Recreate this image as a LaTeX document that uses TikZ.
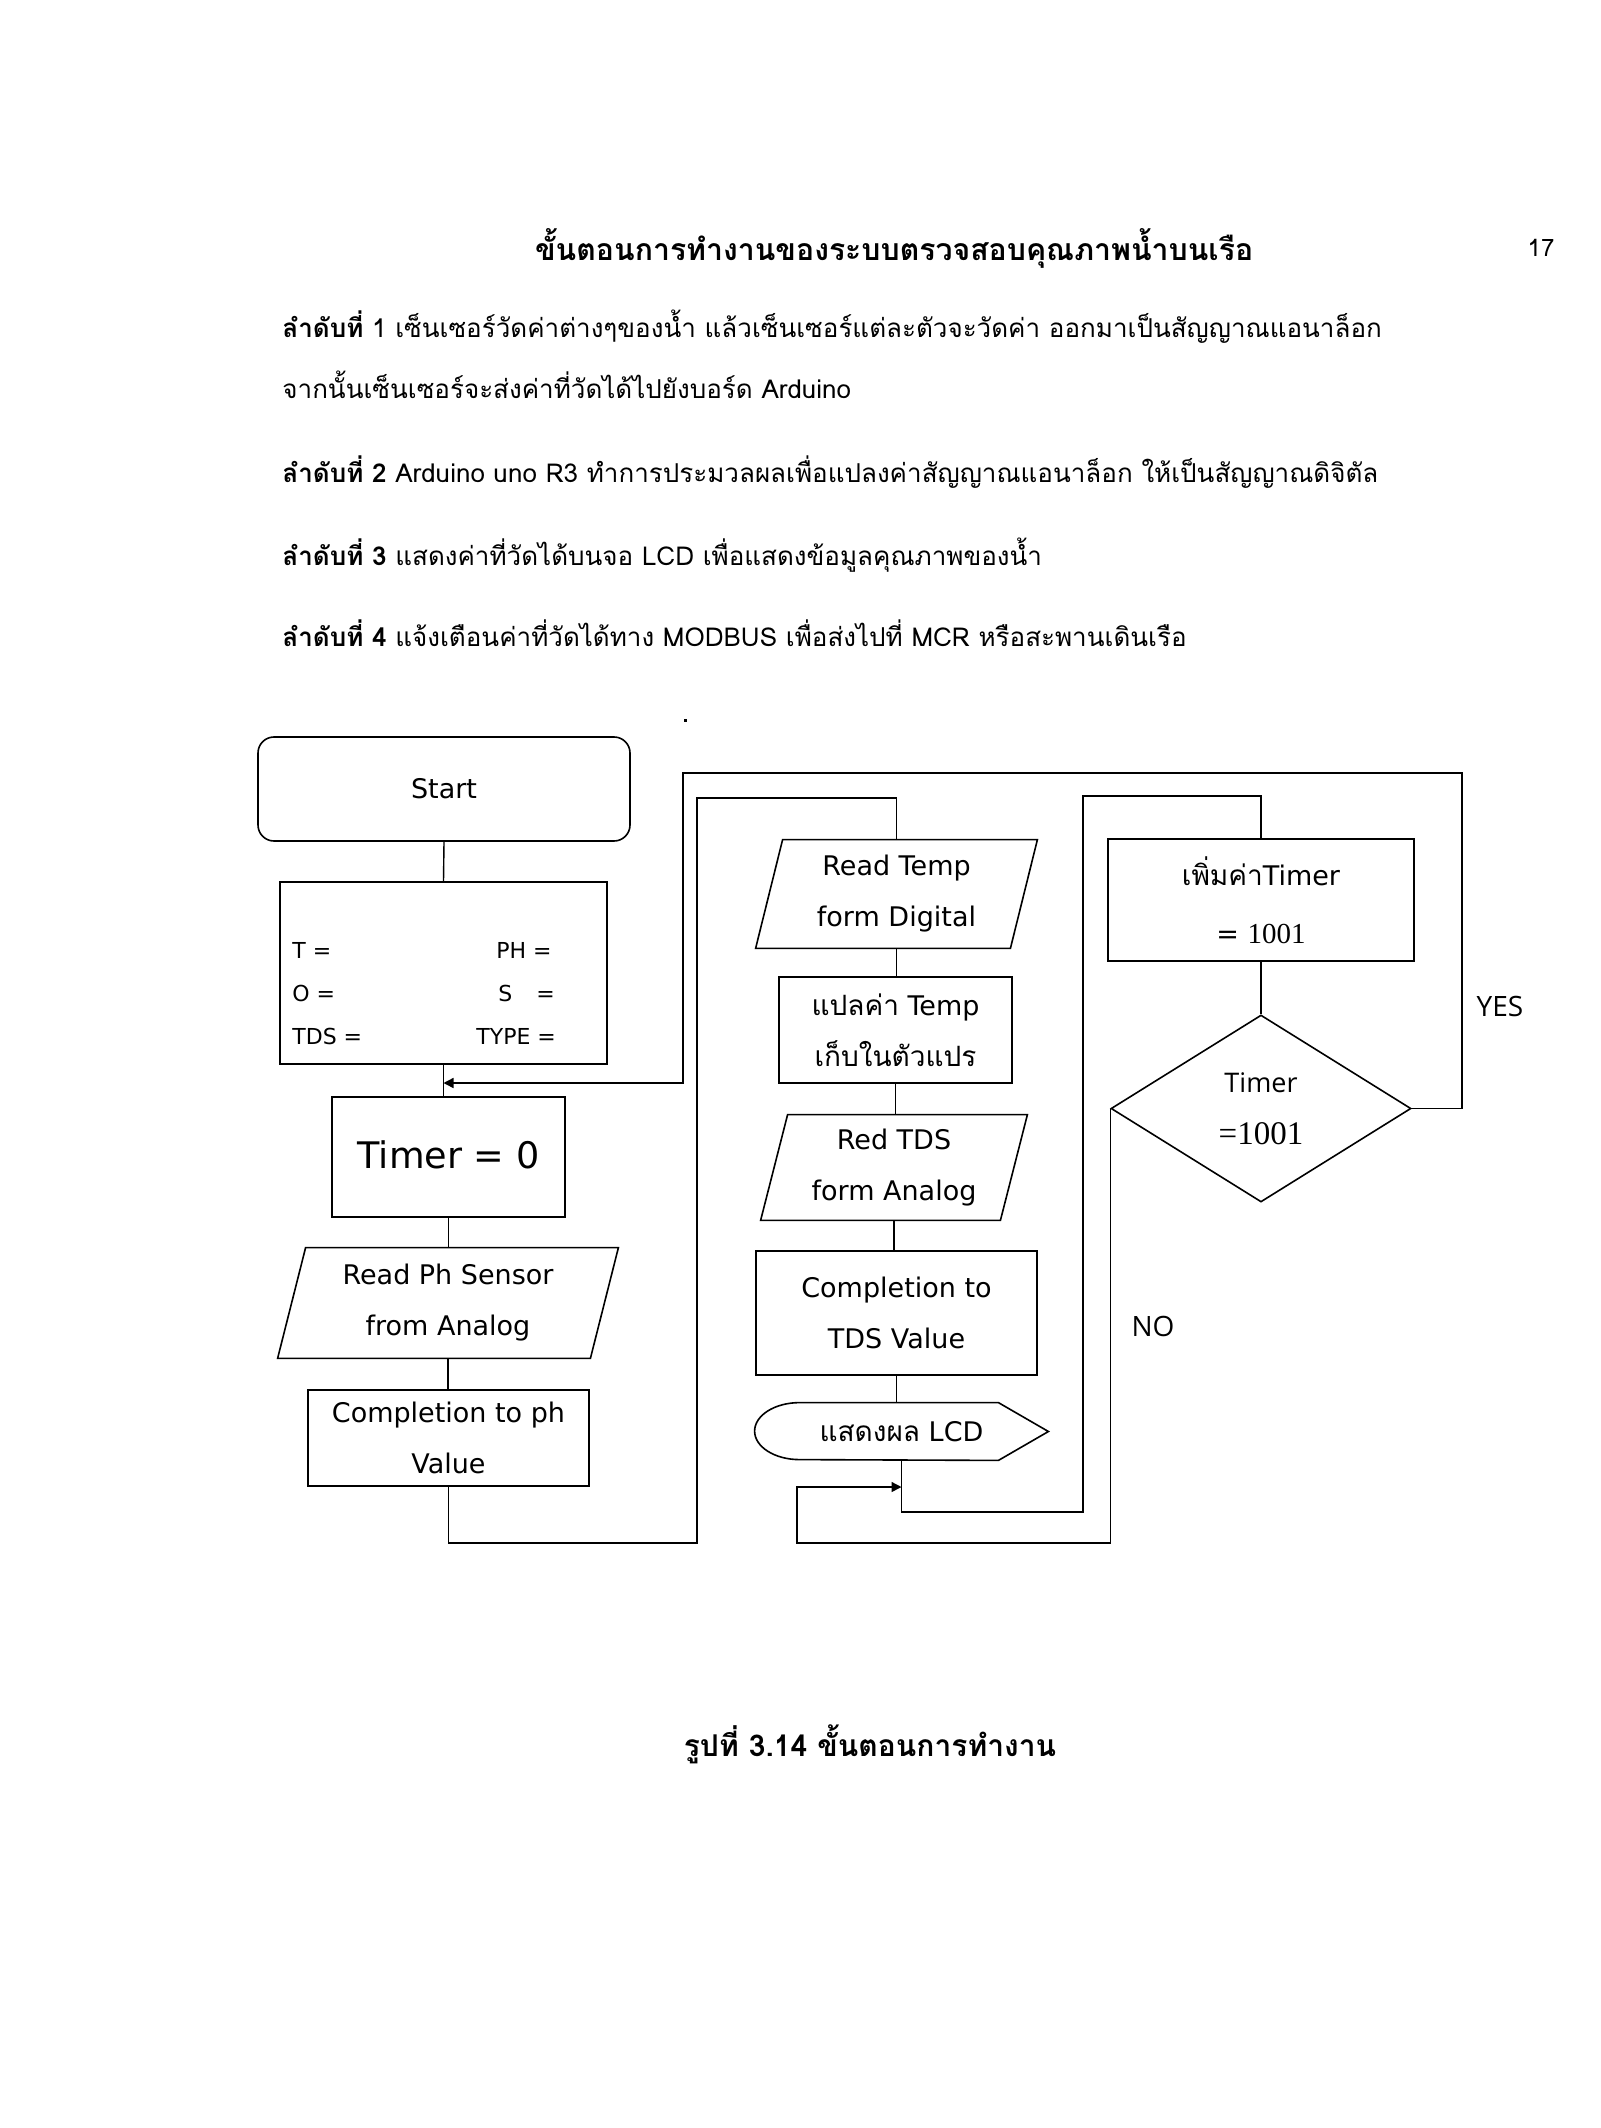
\documentclass[tikz,border=0pt]{standalone}
\usepackage{fontspec}
\usetikzlibrary{arrows.meta,shapes.geometric}
\setmainfont{DejaVu Sans}
\newfontfamily\thaifont[Script=Thai]{Loma}
\newfontfamily\serifnum{Liberation Serif}
\newfontfamily\opensans{Open Sans}
\tikzset{
  box/.style={draw, line width=0.8pt},
  flowtext/.style={inner sep=0pt, align=center, font=\fontsize{13.5}{25.5}\selectfont},
  conn/.style={line width=0.7pt},
  arr/.style={conn, -{Triangle[length=5pt,width=5pt]}},
  body/.style={inner sep=0pt, anchor=base west, font=\thaifont\fontsize{13}{15}\selectfont},
  vartext/.style={inner sep=0pt, font=\fontsize{11}{13}\selectfont},
  lbl/.style={inner sep=0pt, font=\opensans\fontsize{14}{16}\selectfont},
}
\newcommand{\thx}[1]{{\thaifont\fontsize{14}{16}\selectfont #1}}
\begin{document}
\begin{tikzpicture}[x=0.5pt,y=-0.5pt]
\fill[white] (0,0) rectangle (1600,2128);
\useasboundingbox (0,0) rectangle (1600,2128);

% ---- page text ----
\node[inner sep=0pt, font=\thaifont\bfseries\fontsize{15.1}{17}\selectfont] (title) at (894,248) {ขั้นตอนการทำงานของระบบตรวจสอบคุณภาพน้ำบนเรือ};
\node[inner sep=0pt, font=\thaifont\fontsize{12}{14}\selectfont] (pageno) at (1541,248) {17};
\node[body] (line1) at (282,338) {{\bfseries ลำดับที่} 1 เซ็นเซอร์วัดค่าต่างๆของน้ำ แล้วเซ็นเซอร์แต่ละตัวจะวัดค่า ออกมาเป็นสัญญาณแอนาล็อก};
\node[body] (line2) at (282,399) {จากนั้นเซ็นเซอร์จะส่งค่าที่วัดได้ไปยังบอร์ด Arduino};
\node[body] (line3) at (282,483) {{\bfseries ลำดับที่ 2} Arduino uno R3 ทำการประมวลผลเพื่อแปลงค่าสัญญาณแอนาล็อก ให้เป็นสัญญาณดิจิตัล};
\node[body] (line4) at (282,566) {{\bfseries ลำดับที่ 3} แสดงค่าที่วัดได้บนจอ LCD เพื่อแสดงข้อมูลคุณภาพของน้ำ};
\node[body] (line5) at (282,646) {{\bfseries ลำดับที่ 4} แจ้งเตือนค่าที่วัดได้ทาง MODBUS เพื่อส่งไปที่ MCR หรือสะพานเดินเรือ};
\fill (684,719) rectangle (687,722);
\node[inner sep=0pt, font=\thaifont\bfseries\fontsize{15}{17}\selectfont] (caption) at (870,1744) {รูปที่ 3.14 ขั้นตอนการทำงาน};

% ---- left column ----
\node[box, rounded corners=8pt, minimum width=186pt, minimum height=52pt, flowtext] (start) at (444,789) {Start};
\node[box, minimum width=163.5pt, minimum height=91pt, inner sep=0pt] (vars) at (443.5,973) {};
\node[vartext, anchor=west] (vT) at (292,950) {T =};
\node[vartext, anchor=west] (vO) at (292,993) {O =};
\node[vartext, anchor=west] (vTDS) at (292,1036) {TDS =};
\node[vartext, anchor=west] (vPH) at (496,950) {PH =};
\node[vartext, anchor=west] (vS) at (498,993) {S\hspace{12pt}=};
\node[vartext, anchor=west] (vTYPE) at (476,1036) {TYPE =};
\node[box, minimum width=116.5pt, minimum height=60pt, flowtext, font=\fontsize{18.3}{24}\selectfont] (timer0) at (448.5,1157) {\raisebox{2pt}{Timer = 0}};
\node[flowtext, minimum width=156pt, minimum height=55pt] (readph) at (448,1303) {Read Ph Sensor\\from Analog};
\draw[box] ([xshift=7pt]readph.north west) -- ([xshift=7pt]readph.north east) -- ([xshift=-7pt]readph.south east) -- ([xshift=-7pt]readph.south west) -- cycle;
\node[box, flowtext, minimum width=140.5pt, minimum height=48pt] (compph) at (448.5,1438) {Completion to ph\\Value};

% ---- middle column ----
\node[flowtext, minimum width=127pt, minimum height=54pt] (readtemp) at (896.5,894) {Read Temp\\form Digital};
\draw[box] ([xshift=6.75pt]readtemp.north west) -- ([xshift=6.75pt]readtemp.north east) -- ([xshift=-6.75pt]readtemp.south east) -- ([xshift=-6.75pt]readtemp.south west) -- cycle;
\node[box, flowtext, minimum width=116.5pt, minimum height=53pt] (convert) at (895.5,1030) {\thx{แปลค่า} Temp\\\thx{เก็บในตัวแปร}};
\node[flowtext, minimum width=119.5pt, minimum height=52.5pt] (readtds) at (894,1167.5) {Red TDS\\form Analog};
\draw[box] ([xshift=6.75pt]readtds.north west) -- ([xshift=6.75pt]readtds.north east) -- ([xshift=-6.75pt]readtds.south east) -- ([xshift=-6.75pt]readtds.south west) -- cycle;
\node[box, flowtext, minimum width=140.5pt, minimum height=62pt] (comptds) at (896.5,1313) {Completion to\\TDS Value};
\node[flowtext, minimum width=146.5pt, minimum height=28.5pt] (display) at (901.5,1431.5) {\thx{แสดงผล} LCD};
\draw[box] ([xshift=22.5pt]display.north west) arc[start angle=90, end angle=270, x radius=22.5pt, y radius=14.25pt] -- ([xshift=-25pt]display.south east) -- (display.east) -- ([xshift=-25pt]display.north east) -- cycle;

% ---- right column ----
\node[box, flowtext, minimum width=153pt, minimum height=61pt, font=\fontsize{13.5}{29}\selectfont] (addtimer) at (1261,900) {\thx{เพิ่มค่า}Timer\\= {\serifnum\fontsize{14.5}{16}\selectfont 1001}};
\node[box, diamond, flowtext, minimum width=150pt, minimum height=93.5pt, font=\opensans\fontsize{13.5}{26}\selectfont] (decide) at (1261,1108.5) {Timer\\{\serifnum\fontsize{16.5}{18}\selectfont =1001}};
\node[lbl] (yes) at (1500,1006) {YES};
\node[lbl] (no) at (1153,1326) {NO};

% ---- turning points ----
\coordinate (ph1) at (697,1543);
\coordinate (ph2) at (697,798);
\coordinate (l1) at (1083,1512);
\coordinate (l2) at (1083,796);
\coordinate (n2) at (797,1543);
\coordinate (n3) at (797,1487);
\coordinate (y1) at (1462,773);
\coordinate (y2) at (683,1083);

% ---- connectors ----
\draw[conn] (start.south) -- (vars.north);
\draw[conn] (vars.south) -- (vars.south |- timer0.north);
\draw[conn] (timer0.south) -- (timer0.south |- readph.north);
\draw[conn] (readph.south) -- (readph.south |- compph.north);
\draw[conn] (compph.south) |- (ph1) -- (ph2) -| (readtemp.north);
\draw[conn] (readtemp.south) -- (readtemp.south |- convert.north);
\draw[conn] (convert.south) -- (convert.south |- readtds.north);
\draw[conn] (readtds.south) -- (readtds.south |- comptds.north);
\draw[conn] (comptds.south) -- (comptds.south |- display.north);
\draw[conn] (display.south) |- (l1) -- (l2) -| (addtimer.north);
\draw[conn] (addtimer.south) -- (decide.north);
\draw[arr] (decide.west) |- (n2) -- (n3) -- (display.south |- n3);
\draw[conn] (decide.east) -| (y1);
\draw[arr] (y1) -| (y2) -- (vars.south |- y2);
\draw[line width=1.3pt] (y1 |- decide.east) -- (y1) -- (y1 -| y2);
\end{tikzpicture}
\end{document}
